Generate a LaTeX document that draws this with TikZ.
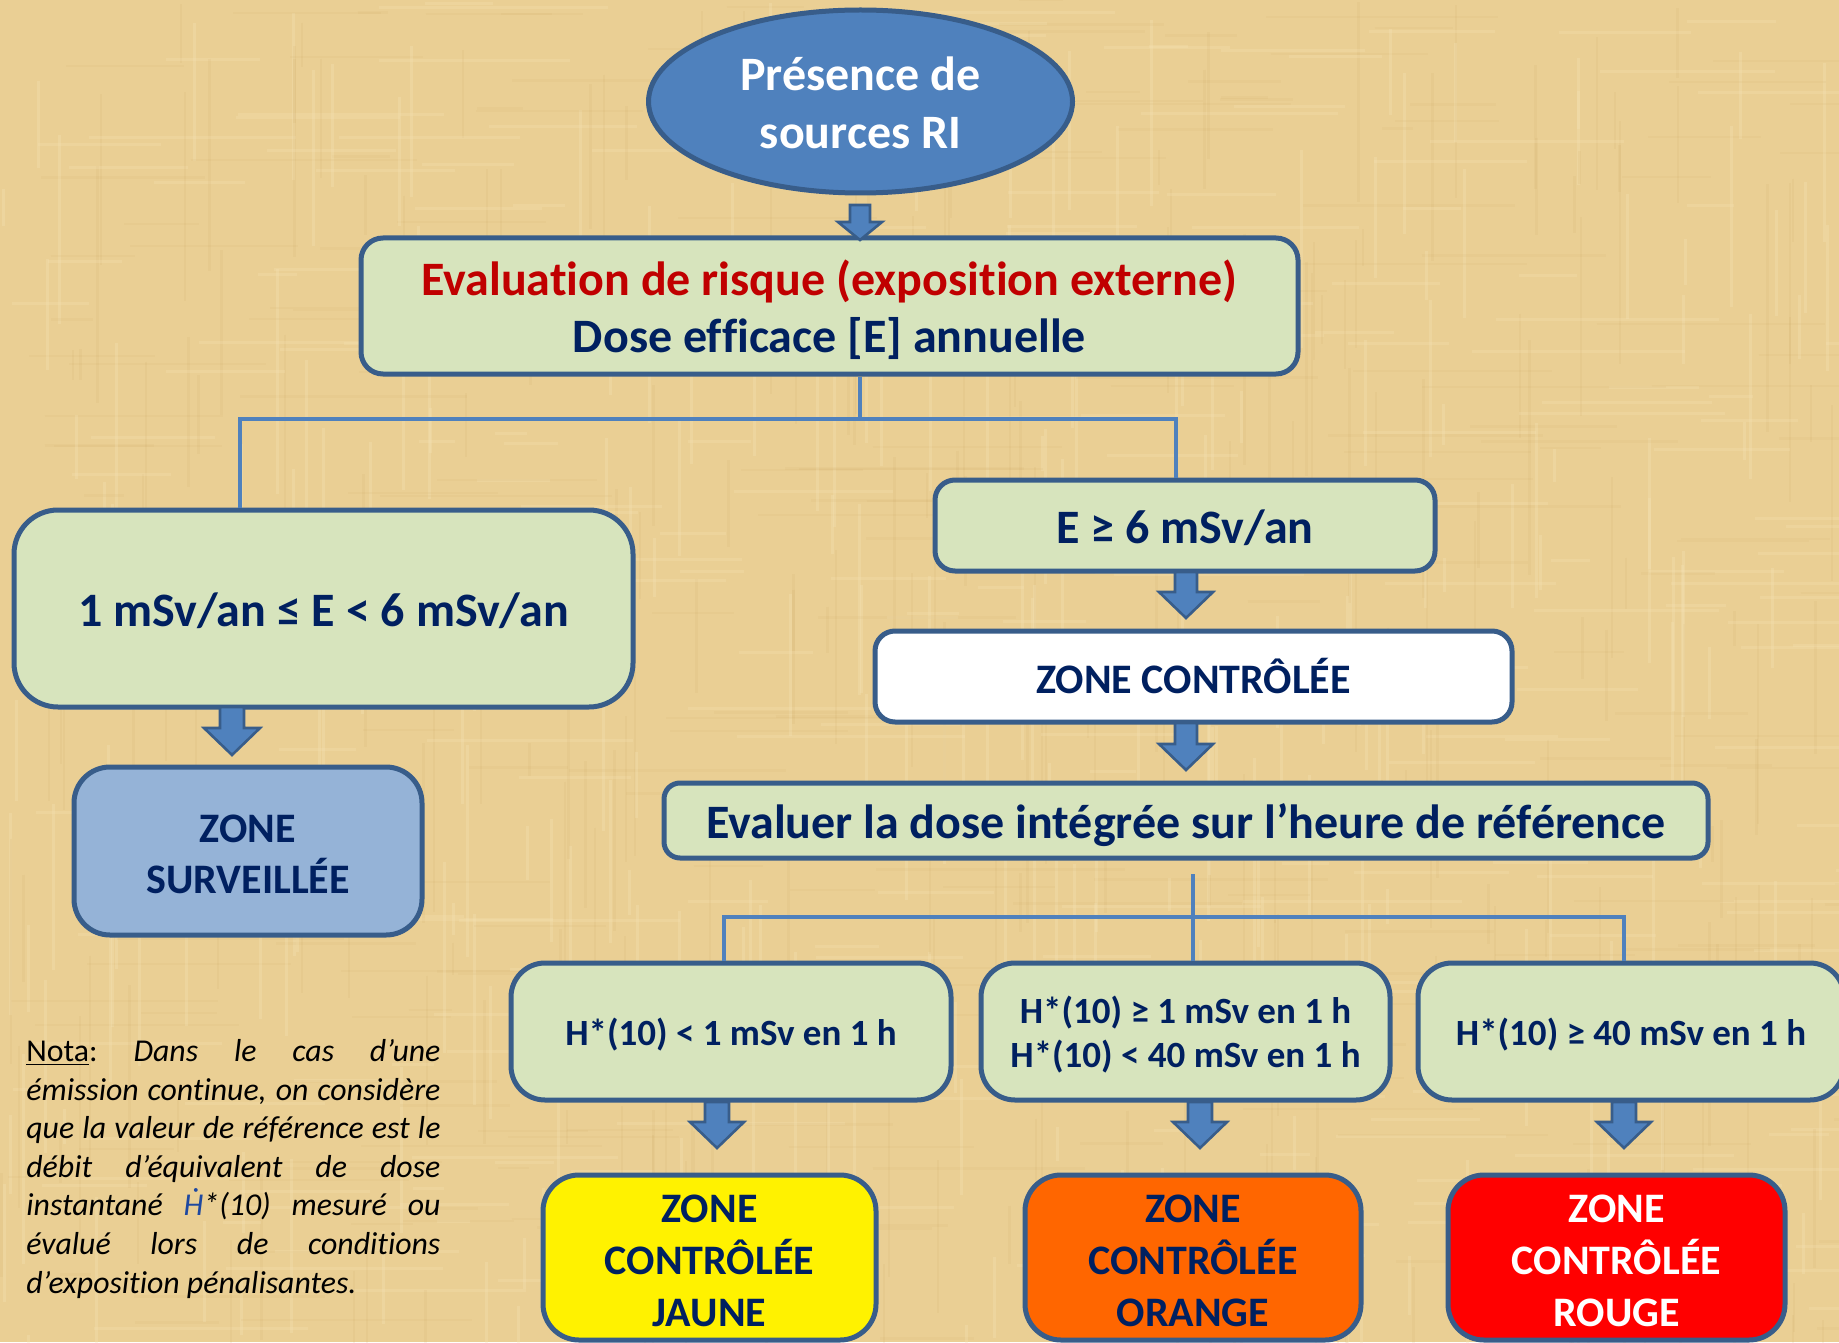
\documentclass[tikz,border=0pt]{standalone}
\usepackage{fontspec}
\setmainfont{Carlito}[Ligatures={NoCommon}]
\usetikzlibrary{calc,shapes.geometric}
\definecolor{bgtan}{RGB}{234,207,148}
\definecolor{bgdark}{RGB}{205,168,100}
\definecolor{bglight}{RGB}{246,228,182}
\definecolor{boxgreen}{RGB}{215,228,189}
\definecolor{bordblue}{RGB}{56,93,138}
\definecolor{accblue}{RGB}{79,129,189}
\definecolor{navy}{RGB}{0,32,96}
\definecolor{darkred}{RGB}{192,0,0}
\definecolor{survblue}{RGB}{149,179,215}
\definecolor{zorange}{RGB}{255,102,0}
\definecolor{hdot}{RGB}{31,73,160}
\tikzset{
  x=0.5pt, y=-0.5pt,
  gbox/.style={draw=bordblue, line width=2.5pt, fill=boxgreen, rounded corners=#1, inner sep=0pt},
  gbox/.default=10pt,
  txt/.style={inner sep=0pt, align=center, text=navy, font=\bfseries\fontsize{24}{28.5}\selectfont},
  conn/.style={draw=accblue, line width=2pt},
  barrow/.style={draw=bordblue, fill=accblue, line width=1.3pt, line join=miter},
}
% block arrow: #1 start, #2 tip, #3 shaft half width, #4 head half width, #5 head length (pt)
\newcommand\blkarrow[5]{%
  \path[barrow] let \p1=#1, \p2=#2 in
    (\x1-#3,\y1) -- (\x1+#3,\y1) -- (\x1+#3,\y2+#5) -- (\x1+#4,\y2+#5)
    -- (\x1,\y2) -- (\x1-#4,\y2+#5) -- (\x1-#3,\y2+#5) -- cycle;}
\begin{document}
\begin{tikzpicture}
\fill[bgtan] (0,0) rectangle (1839,1342);
\useasboundingbox (0,0) rectangle (1839,1342);
% papyrus-like texture
\begin{scope}
\pgfmathsetseed{11}
\foreach \i in {1,...,260}{
  \pgfmathsetmacro\xx{rnd*1839}\pgfmathsetmacro\yy{rnd*1342}\pgfmathsetmacro\ll{30+rnd*220}
  \draw[bgdark, opacity=0.12, line width=1.2pt] (\xx,\yy) -- ++(0,\ll);
  \pgfmathsetmacro\xa{rnd*1839}\pgfmathsetmacro\ya{rnd*1342}\pgfmathsetmacro\la{30+rnd*220}
  \draw[bgdark, opacity=0.10, line width=1.2pt] (\xa,\ya) -- ++(\la,0);
  \pgfmathsetmacro\xb{rnd*1839}\pgfmathsetmacro\yb{rnd*1342}\pgfmathsetmacro\lb{30+rnd*200}
  \draw[bglight, opacity=0.3, line width=1.5pt] (\xb,\yb) -- ++(0,\lb);
  \pgfmathsetmacro\xc{rnd*1839}\pgfmathsetmacro\yc{rnd*1342}\pgfmathsetmacro\lc{30+rnd*200}
  \draw[bglight, opacity=0.25, line width=1.5pt] (\xc,\yc) -- ++(\lc,0);
}
\end{scope}

% boxes
\node[ellipse, draw=bordblue, line width=2.5pt, fill=accblue, minimum width=212pt, minimum height=91.5pt, inner sep=0pt] (ell) at (860.5,101.5) {};
\node[gbox=11pt, minimum width=468.5pt, minimum height=68pt] (eval) at (829.5,306) {};
\node[gbox=22pt, minimum width=309.5pt, minimum height=98.5pt] (left) at (323.5,608.5) {};
\node[gbox=10pt, minimum width=250pt, minimum height=45.5pt] (ege) at (1185,525.5) {};
\node[gbox=10pt, fill=white, minimum width=318.5pt, minimum height=45.5pt] (zc) at (1193.5,676.5) {};
\node[gbox=8pt, minimum width=522pt, minimum height=37.5pt] (evl) at (1186,820.5) {};
\node[gbox=17pt, minimum width=220pt, minimum height=68.5pt] (h1) at (731,1031.5) {};
\node[gbox=17pt, minimum width=204.5pt, minimum height=68.5pt] (h2) at (1185.5,1031.5) {};
\node[gbox=17pt, minimum width=213pt, minimum height=68.5pt] (h3) at (1631,1031.5) {};
\node[gbox=18pt, fill=survblue, minimum width=174pt, minimum height=84pt] (zs) at (248,851) {};
\node[gbox=18pt, fill=yellow, minimum width=166.5pt, minimum height=82.5pt] (zj) at (709.5,1257.5) {};
\node[gbox=18pt, fill=zorange, minimum width=168pt, minimum height=82.5pt] (zo) at (1193,1257.5) {};
\node[gbox=18pt, fill=red, minimum width=168.5pt, minimum height=82.5pt] (zr) at (1616.5,1257.5) {};

% texts
\node[txt, text=white, font=\bfseries\fontsize{24}{29}\selectfont] (ellT) at ([yshift=-0.6pt]ell.center) {Présence de\\sources RI};
\node[txt] (evalT) at ([yshift=-2.1pt]eval.center) {{\color{darkred}Evaluation de risque (exposition externe)}\\Dose efficace [E] annuelle};
\node[txt] (leftT) at ([yshift=-1.2pt]left.center) {1 mSv/an ≤ E < 6 mSv/an};
\node[txt] (egeT) at ([yshift=-1.2pt]ege.center) {E ≥ 6 mSv/an};
\node[txt, font=\bfseries\fontsize{21}{25}\selectfont] (zcT) at ([yshift=0.5pt]zc.center) {ZONE CONTRÔLÉE};
\node[txt] (evlT) at ([yshift=-2.3pt]evl.center) {Evaluer la dose intégrée sur l’heure de référence};
\node[txt, font=\bfseries\fontsize{18.5}{22}\selectfont] (h1T) at ([yshift=-1.7pt]h1.center) {H*(10) < 1 mSv en 1 h};
\node[txt, font=\bfseries\fontsize{18.5}{22}\selectfont] (h2T) at ([yshift=-1.5pt]h2.center) {H*(10) ≥ 1 mSv en 1 h\\H*(10) < 40 mSv en 1 h};
\node[txt, font=\bfseries\fontsize{18.5}{22}\selectfont] (h3T) at ([yshift=-1.7pt]h3.center) {H*(10) ≥ 40 mSv en 1 h};
\node[txt, font=\bfseries\fontsize{21}{25.5}\selectfont] (zsT) at ([yshift=-1.6pt]zs.center) {ZONE\\SURVEILLÉE};
\node[txt, font=\bfseries\fontsize{21}{26}\selectfont] (zjT) at ([yshift=-1.7pt]zj.center) {ZONE\\CONTRÔLÉE\\JAUNE};
\node[txt, font=\bfseries\fontsize{21}{26}\selectfont] (zoT) at ([yshift=-1.7pt]zo.center) {ZONE\\CONTRÔLÉE\\ORANGE};
\node[txt, text=white, font=\bfseries\fontsize{21}{26}\selectfont] (zrT) at ([yshift=-1.7pt]zr.center) {ZONE\\CONTRÔLÉE\\ROUGE};

% connectors (tree lines)
\coordinate (j1) at (860,419);
\draw[conn] (eval.south -| j1) -- (j1);
\draw[conn] (j1) -| ([xshift=-41.75pt]left.north);
\draw[conn] (j1) -| ([xshift=-4.5pt]ege.north);
\coordinate (j2s) at (1193,874);
\coordinate (j2) at (1193,917);
\draw[conn] (j2s) -- (j2);
\draw[conn] (j2) -| ([xshift=-3.5pt]h1.north);
\draw[conn] (j2) -- (j2 |- h2.north);
\draw[conn] (j2) -| ([xshift=-3.5pt]h3.north);

% block arrows
\coordinate (a0s) at (860,205);  \coordinate (a0e) at (860,240);
\coordinate (a1s) at (232,707);  \coordinate (a1e) at (232,755);
\coordinate (a2s) at (1186,572); \coordinate (a2e) at (1186,618);
\coordinate (a3s) at (1186,723); \coordinate (a3e) at (1186,770);
\coordinate (a4s) at (717,1102); \coordinate (a4e) at (717,1148);
\coordinate (a5s) at (1200,1102);\coordinate (a5e) at (1200,1148);
\coordinate (a6s) at (1624,1102);\coordinate (a6e) at (1624,1148);
\blkarrow{(a0s)}{(a0e)}{5pt}{11pt}{9pt}
\blkarrow{(a1s)}{(a1e)}{6pt}{14pt}{13.5pt}
\blkarrow{(a2s)}{(a2e)}{5.5pt}{13.5pt}{13pt}
\blkarrow{(a3s)}{(a3e)}{5.5pt}{13.5pt}{13pt}
\blkarrow{(a4s)}{(a4e)}{6pt}{13.5pt}{13pt}
\blkarrow{(a5s)}{(a5e)}{6pt}{13.5pt}{13pt}
\blkarrow{(a6s)}{(a6e)}{6pt}{13.5pt}{13pt}

% nota
\node[anchor=north west, inner sep=0pt, align=left, font=\fontsize{15.9}{19.3}\selectfont] (nota) at (26,1039) {%
\makebox[207pt][l]{\underline{Nota}:\hfill\itshape Dans\hfill le\hfill cas\hfill d’une}\\
\makebox[207pt][s]{\itshape émission continue, on considère}\\
\makebox[207pt][s]{\itshape que la valeur de référence est le}\\
\makebox[207pt][s]{\itshape débit d’équivalent de dose}\\
\makebox[207pt][s]{\itshape instantané {\color{hdot}\accent"02D9 H}*(10) mesuré ou}\\
\makebox[207pt][s]{\itshape évalué lors de conditions}\\
{\itshape d’exposition pénalisantes.}};
\end{tikzpicture}
\end{document}
